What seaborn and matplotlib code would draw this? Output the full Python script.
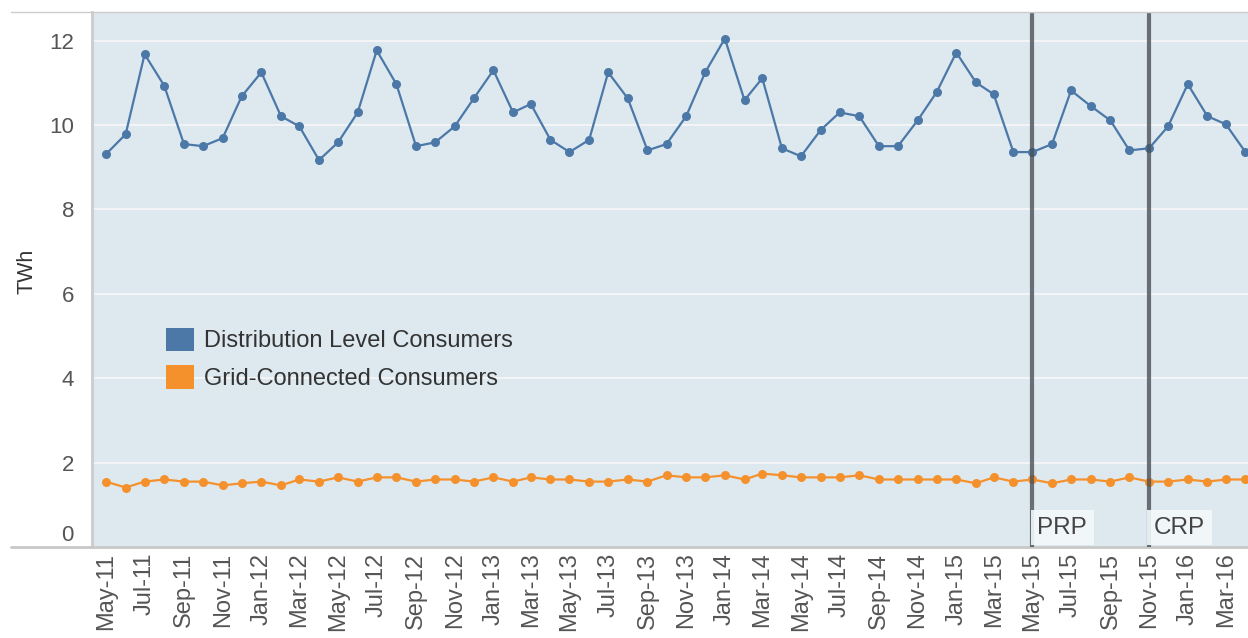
import numpy as np
import pandas as pd
import matplotlib
matplotlib.use("Agg")
import matplotlib.pyplot as plt
import matplotlib.dates as mdates
import matplotlib.transforms as mtransforms
from matplotlib.patches import Patch
from matplotlib.lines import Line2D
import seaborn as sns

# monthly data, May-11 .. Apr-16
months = pd.date_range("2011-05-01", periods=60, freq="MS")

distribution = [
    9.31, 9.78, 11.68, 10.93, 9.55, 9.50, 9.69, 10.68, 11.25, 10.21,
    9.97, 9.17, 9.59, 10.30, 11.77, 10.97, 9.50, 9.59, 9.97, 10.63,
    11.30, 10.30, 10.50, 9.65, 9.36, 9.65, 11.25, 10.63, 9.40, 9.55,
    10.21, 11.25, 12.05, 10.59, 11.11, 9.45, 9.26, 9.88, 10.30, 10.21,
    9.50, 9.50, 10.11, 10.78, 11.72, 11.01, 10.73, 9.36, 9.36, 9.55,
    10.82, 10.45, 10.11, 9.40, 9.45, 9.97, 10.97, 10.21, 10.02, 9.36,
]
grid_connected = [
    1.55, 1.41, 1.55, 1.60, 1.55, 1.55, 1.46, 1.51, 1.55, 1.46,
    1.60, 1.55, 1.65, 1.55, 1.65, 1.65, 1.55, 1.60, 1.60, 1.55,
    1.65, 1.55, 1.65, 1.60, 1.60, 1.55, 1.55, 1.60, 1.55, 1.70,
    1.65, 1.65, 1.70, 1.60, 1.74, 1.70, 1.65, 1.65, 1.65, 1.70,
    1.60, 1.60, 1.60, 1.60, 1.60, 1.51, 1.65, 1.55, 1.60, 1.51,
    1.60, 1.60, 1.55, 1.65, 1.55, 1.55, 1.60, 1.55, 1.60, 1.60,
]
series_names = ["Distribution Level Consumers", "Grid-Connected Consumers"]
series_colors = ["#4C78A8", "#F5912D"]

events = [("PRP", "2015-05-01"), ("CRP", "2015-11-01")]

df = pd.DataFrame({
    "month": list(months) * 2,
    "TWh": distribution + grid_connected,
    "series": [series_names[0]] * 60 + [series_names[1]] * 60,
})

sns.set_theme(style="white")
plt.rcParams["font.family"] = ["Liberation Sans", "DejaVu Sans"]

fig = plt.figure(figsize=(12.48, 6.38), dpi=100)
ax = fig.add_axes([92 / 1248, 91 / 638, 1156 / 1248, 535 / 638])
ax.set_facecolor("#DDE9EF")

sns.lineplot(data=df, x="month", y="TWh", hue="series",
             palette=series_colors, marker="o", markersize=6.5,
             markeredgewidth=0, linewidth=1.6, legend=False, ax=ax)

# event markers
for label, d in events:
    d = pd.Timestamp(d)
    ax.axvline(d, color="#4a4f55", alpha=0.8, linewidth=3, zorder=5)
    ax.text(d + pd.Timedelta(days=8), 0.2, label, fontsize=17.5,
            color="#444444", ha="left", va="bottom", zorder=6,
            bbox=dict(boxstyle="square,pad=0.28", facecolor="#F4F8FA",
                      edgecolor="none", alpha=0.9))

ax.set_ylim(0, 12.68)
ax.set_yticks([0, 2, 4, 6, 8, 10, 12])
ax.yaxis.grid(True, color="#F2F4F5", linewidth=1.5)
ax.xaxis.grid(False)
ax.set_axisbelow(True)

ax.set_xlim(pd.Timestamp("2011-04-09"), pd.Timestamp("2016-04-05"))
ax.set_xticks(months[::2])
ax.xaxis.set_major_formatter(mdates.DateFormatter("%b-%y"))
for t in ax.get_xticklabels():
    t.set_rotation(90)

ax.tick_params(axis="x", length=8, width=1, color="#E6E6E6", pad=-4,
               labelsize=17, labelcolor="#555555")
ax.tick_params(axis="y", length=7, width=1, color="#EEEEEE", pad=6,
               labelsize=16, labelcolor="#555555")

# the 0 label sits a little above the axis line
zero_lbl = ax.get_yticklabels()[0]
zero_lbl.set_transform(zero_lbl.get_transform() +
                       mtransforms.ScaledTranslation(0, 14 / 100, fig.dpi_scale_trans))

ax.set_xlabel("")
ax.set_ylabel("TWh", fontsize=15.5, color="#333333")
ax.yaxis.set_label_coords(-0.047, 0.516)

for side in ["top", "right"]:
    ax.spines[side].set_visible(False)
ax.spines["left"].set_color("#CCCCCC")
ax.spines["left"].set_linewidth(2)
ax.spines["bottom"].set_color("#C8C8C8")
ax.spines["bottom"].set_linewidth(2)

# frame lines reaching the left edge
fig.add_artist(Line2D([11 / 1248, 1], [1 - 12 / 638] * 2, color="#CCCCCC", linewidth=1))
fig.add_artist(Line2D([11 / 1248, 92 / 1248], [91 / 638] * 2, color="#C8C8C8", linewidth=2))

handles = [Patch(facecolor=c, edgecolor="none") for c in series_colors]
ax.legend(handles, series_names, loc="upper left", bbox_to_anchor=(0.046, 0.45),
          frameon=False, fontsize=17, handlelength=1.15, handleheight=1.15,
          handletextpad=0.45, labelspacing=0.55, labelcolor="#333333")

fig.savefig("out.png", dpi=100)
